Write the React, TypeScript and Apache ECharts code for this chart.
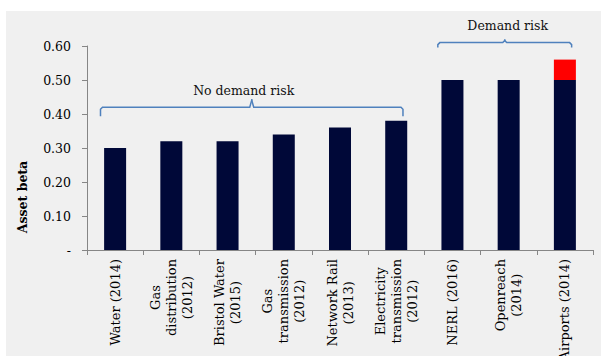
import React, { useEffect, useRef } from 'react';
import * as echarts from 'echarts';

const categories = [
  'Water (2014)',
  'Gas\ndistribution\n(2012)',
  'Bristol Water\n(2015)',
  'Gas\ntransmission\n(2012)',
  'Network Rail\n(2013)',
  'Electricity\ntransmission\n(2012)',
  'NERL (2016)',
  'Openreach\n(2014)',
  'Airports (2014)',
];
const assetBeta = [0.3, 0.32, 0.32, 0.34, 0.36, 0.38, 0.5, 0.5, 0.5];
const airportsUplift = [null, null, null, null, null, null, null, null, 0.06];
const yMin = 0;
const yMax = 0.6;
const yInterval = 0.1;
const yAxisTitle = 'Asset beta';

const groups = [
  { label: 'No demand risk', from: 0, to: 5, level: 0.42 },
  { label: 'Demand risk', from: 6, to: 8, level: 0.61 },
];
const groupDrops = [9, 5];
const groupTicks = [8, 3];
const groupTextShift = [-8, 3];

const FONT = 'DejaVu Serif';
const BRACKET = '#4f81bd';

export default function App() {
  const ref = useRef<HTMLDivElement>(null);
  useEffect(() => {
    if (!ref.current) return;
    const chart = echarts.init(ref.current, null, { renderer: 'svg' });
    chart.setOption({
      animation: false,
      backgroundColor: '#f0f0f0',
      grid: { left: 81, top: 35, right: 8, bottom: 106, outerBoundsMode: 'none', containLabel: false },
      xAxis: {
        type: 'category',
        data: categories,
        axisLine: { lineStyle: { color: '#868686', width: 1 } },
        axisTick: { show: true, length: 5, lineStyle: { color: '#868686' } },
        axisLabel: {
          rotate: 90,
          margin: 9,
          interval: 0,
          color: '#000',
          fontFamily: FONT,
          fontSize: 13,
          lineHeight: 16,
          formatter: (v: string) => v.split('\n').map((l) => `{c|${l}}`).join('\n'),
          rich: {
            c: { align: 'center', fontFamily: FONT, fontSize: 13, lineHeight: 16, color: '#000' },
          },
        },
      },
      yAxis: {
        type: 'value',
        min: yMin,
        max: yMax,
        interval: yInterval,
        splitLine: { show: false },
        axisLine: { show: true, lineStyle: { color: '#868686', width: 1 } },
        axisTick: { show: true, length: 5, lineStyle: { color: '#868686' } },
        axisLabel: {
          margin: 16,
          color: '#000',
          fontFamily: FONT,
          fontSize: 12.5,
          formatter: (v: number) => (v === 0 ? '-' : v.toFixed(2)),
        },
      },
      series: [
        {
          type: 'bar',
          stack: 'b',
          data: assetBeta,
          barWidth: 22,
          itemStyle: { color: '#000838' },
        },
        {
          type: 'bar',
          stack: 'b',
          data: airportsUplift,
          barWidth: 22,
          itemStyle: { color: '#ff0000' },
        },
      ],
    });

    const x0 = chart.convertToPixel({ xAxisIndex: 0 }, 0) as number;
    const x1 = chart.convertToPixel({ xAxisIndex: 0 }, 1) as number;
    const band = x1 - x0;
    const elements: any[] = [];
    groups.forEach((g, i) => {
      const left = (chart.convertToPixel({ xAxisIndex: 0 }, g.from) as number) - 0.26 * band;
      const right = (chart.convertToPixel({ xAxisIndex: 0 }, g.to) as number) + 0.12 * band;
      const y = chart.convertToPixel({ yAxisIndex: 0 }, g.level) as number;
      const drop = groupDrops[i];
      const tick = groupTicks[i];
      const mid = (left + right) / 2;
      const r = 2;
      elements.push({
        type: 'polyline',
        shape: {
          points: [
            [left, y + drop],
            [left, y + r],
            [left + r, y],
            [mid - r, y],
            [mid, y - tick + 1],
            [mid, y - tick],
          ],
        },
        style: { stroke: BRACKET, lineWidth: 1.5, fill: null },
      });
      elements.push({
        type: 'polyline',
        shape: {
          points: [
            [mid, y - tick],
            [mid, y - tick + 1],
            [mid + r, y],
            [right - r, y],
            [right, y + r],
            [right, y + drop],
          ],
        },
        style: { stroke: BRACKET, lineWidth: 1.5, fill: null },
      });
      elements.push({
        type: 'text',
        x: mid + groupTextShift[i],
        y: y - 17,
        style: {
          text: g.label,
          fontFamily: FONT,
          fontSize: 12.5,
          fill: '#111',
          align: 'center',
          verticalAlign: 'middle',
        },
      });
    });
    elements.push({
      type: 'text',
      x: 16,
      y: 186,
      rotation: Math.PI / 2,
      style: {
        text: yAxisTitle,
        fontFamily: FONT,
        fontSize: 12.5,
        fontWeight: 'bold',
        fill: '#000',
        align: 'center',
        verticalAlign: 'middle',
      },
    });
    chart.setOption({ graphic: { elements } });

    return () => chart.dispose();
  }, []);

  return (
    <div style={{ position: 'fixed', left: 0, top: 0, width: 601, height: 356, background: '#fff', overflow: 'hidden' }}>
      <div ref={ref} style={{ position: 'absolute', left: 6, top: 11, width: 595, height: 345 }} />
    </div>
  );
}
